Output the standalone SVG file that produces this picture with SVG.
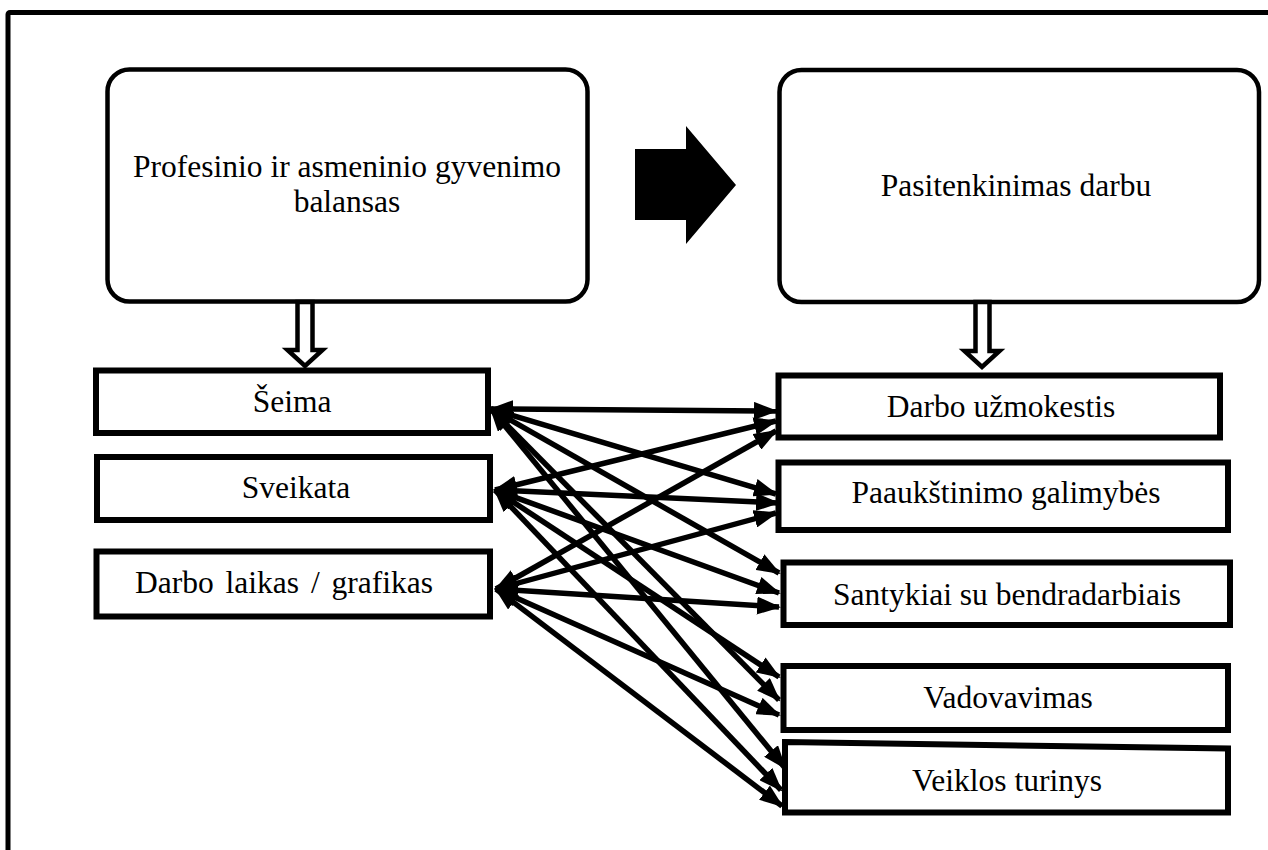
<svg xmlns="http://www.w3.org/2000/svg" width="1268" height="850" viewBox="0 0 1268 850">
  <style>
    .frame { fill: none; stroke: #000; stroke-width: 5; }
    .rbox { fill: #fff; stroke: #000; stroke-width: 4.5; }
    .box { fill: #fff; stroke: #000; stroke-width: 6; }
    .lbl { font-family: "Liberation Serif", "Times New Roman", serif; font-size: 31.5px; fill: #000; text-anchor: middle; }
    .hollow { fill: #fff; stroke: #000; stroke-width: 4.5; stroke-linejoin: miter; }
    .conn line { stroke: #000; stroke-width: 5.5; marker-start: url(#head); marker-end: url(#head); }
  </style>
  <defs>
    <marker id="head" markerUnits="userSpaceOnUse" markerWidth="24" markerHeight="18" refX="22" refY="9" orient="auto-start-reverse" viewBox="0 0 24 18">
      <path d="M0,0 L24,9 L0,18 z" fill="#000"/>
    </marker>
  </defs>

  <rect width="1268" height="850" fill="#fff"/>
  <!-- outer frame, running off the right and bottom edges -->
  <rect class="frame" x="8" y="12.5" width="1300" height="900" rx="2"/>

  <g id="balance">
    <rect class="rbox" x="107.5" y="69.5" width="480" height="232" rx="22"/>
    <text class="lbl" x="347" y="177">Profesinio ir asmeninio gyvenimo</text>
    <text class="lbl" x="347" y="212">balansas</text>
  </g>

  <g id="satisfaction">
    <rect class="rbox" x="779.5" y="70" width="479.5" height="232" rx="22"/>
    <text class="lbl" x="1016" y="196">Pasitenkinimas darbu</text>
  </g>

  <!-- solid arrow between the two top boxes -->
  <polygon id="main-arrow" points="635,149 686,149 686,126 736,185 686,244 686,220 635,220" fill="#000"/>

  <!-- hollow arrows down from the top boxes -->
  <polygon id="down-left" class="hollow" points="297.5,302 312.5,302 312.5,350 322.5,350 305,366 287.5,350 297.5,350"/>
  <polygon id="down-right" class="hollow" points="975.5,302 989.5,302 989.5,351 999.5,351 982,367 964.5,351 975.5,351"/>

  <g id="seima">
    <rect class="box" x="96" y="370.5" width="392" height="62.5"/>
    <text class="lbl" x="292" y="412">Šeima</text>
  </g>
  <g id="sveikata">
    <rect class="box" x="97" y="457" width="393" height="63"/>
    <text class="lbl" x="296" y="498">Sveikata</text>
  </g>
  <g id="darbo-laikas">
    <rect class="box" x="96.5" y="551.5" width="393.5" height="65"/>
    <text class="lbl" x="284" y="593" word-spacing="4">Darbo laikas / grafikas</text>
  </g>

  <g id="uzmokestis">
    <rect class="box" x="778.5" y="375.5" width="441.5" height="62"/>
    <text class="lbl" x="1001" y="417">Darbo užmokestis</text>
  </g>
  <g id="paaukstinimas">
    <rect class="box" x="778.5" y="462.5" width="449.5" height="67.5"/>
    <text class="lbl" x="1006" y="503">Paaukštinimo galimybės</text>
  </g>
  <g id="santykiai">
    <rect class="box" x="783.5" y="562.5" width="446.5" height="62.5"/>
    <text class="lbl" x="1007" y="605">Santykiai su bendradarbiais</text>
  </g>
  <g id="vadovavimas">
    <rect class="box" x="783.5" y="666" width="444.5" height="64"/>
    <text class="lbl" x="1008" y="708">Vadovavimas</text>
  </g>
  <g id="veiklos-turinys">
    <path class="box" d="M785,742 L1228,748.5 L1228,812.5 L785,812.5 Z"/>
    <text class="lbl" x="1007" y="791">Veiklos turinys</text>
  </g>

  <g id="connectors" class="conn">
    <!-- Šeima -->
    <line x1="491" y1="409" x2="776" y2="411"/>
    <line x1="491" y1="409" x2="776" y2="494"/>
    <line x1="491" y1="409" x2="779" y2="573"/>
    <line x1="491" y1="409" x2="779" y2="700"/>
    <line x1="491" y1="409" x2="785" y2="768"/>
    <!-- Sveikata -->
    <line x1="495" y1="490" x2="776" y2="421"/>
    <line x1="495" y1="490" x2="778" y2="503"/>
    <line x1="495" y1="490" x2="779" y2="593"/>
    <line x1="495" y1="490" x2="779" y2="677"/>
    <line x1="495" y1="490" x2="781" y2="790"/>
    <!-- Darbo laikas / grafikas -->
    <line x1="496" y1="589" x2="776" y2="431"/>
    <line x1="496" y1="589" x2="776" y2="513"/>
    <line x1="496" y1="589" x2="779" y2="607"/>
    <line x1="496" y1="589" x2="779" y2="715"/>
    <line x1="496" y1="589" x2="782" y2="806"/>
  </g>
</svg>
